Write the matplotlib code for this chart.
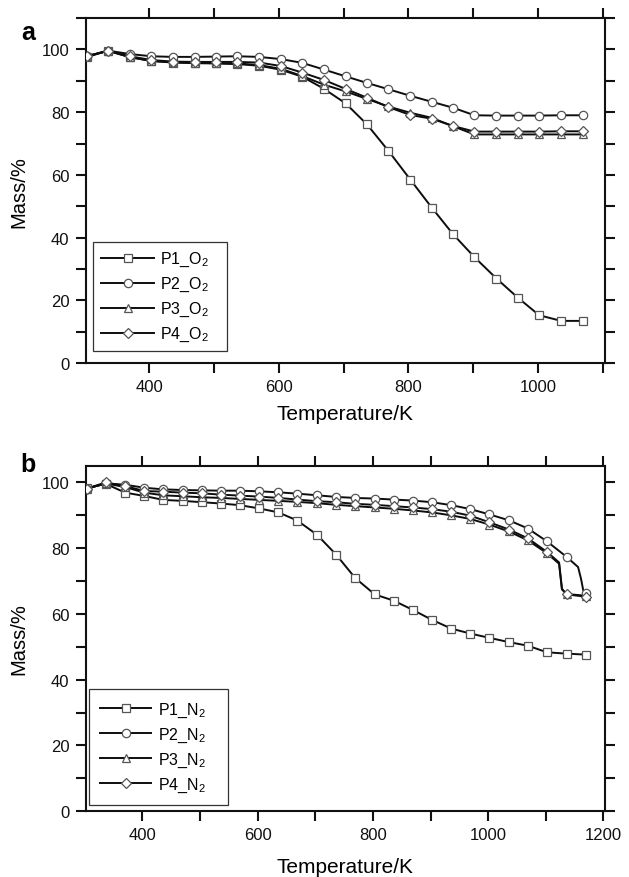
import matplotlib
matplotlib.use("Agg")
import matplotlib.pyplot as plt
from matplotlib.lines import Line2D
from matplotlib.ticker import MultipleLocator

plt.rcParams["font.family"] = "Liberation Sans"
plt.rcParams["mathtext.fontset"] = "custom"
plt.rcParams["mathtext.rm"] = "Liberation Sans"
plt.rcParams["mathtext.it"] = "Liberation Sans"

# ---- panel a: oxygen atmosphere ----
temp_o2 = [303, 336, 370, 403, 436, 470, 503, 536, 569, 603, 636, 669,
           703, 736, 769, 803, 836, 869, 902, 936, 969, 1002, 1036, 1069]
p1_o2 = [97.5, 99.6, 97.5, 96.3, 95.8, 95.6, 95.5, 95.3, 94.8, 93.5, 91.3, 87.5,
         82.8, 76.1, 67.7, 58.5, 49.6, 41.1, 33.8, 27.0, 20.9, 15.3, 13.5, 13.5]
p2_o2 = [97.8, 99.6, 98.5, 97.8, 97.6, 97.6, 97.7, 97.8, 97.6, 96.9, 95.7, 93.6,
         91.4, 89.3, 87.3, 85.2, 83.3, 81.4, 79.0, 78.9, 78.9, 78.9, 79.0, 79.0]
p3_o2 = [97.8, 99.5, 97.5, 96.3, 95.9, 95.7, 95.6, 95.5, 95.0, 93.8, 91.5, 88.8,
         86.6, 84.2, 81.8, 79.8, 78.2, 75.5, 72.9, 72.9, 72.9, 72.9, 72.9, 72.9]
p4_o2 = [97.8, 99.5, 97.8, 96.6, 96.1, 96.0, 96.0, 96.0, 95.8, 94.7, 92.6, 90.3,
         87.4, 84.6, 81.6, 79.1, 77.9, 75.6, 73.8, 73.8, 73.8, 73.8, 73.9, 73.9]

# ---- panel b: nitrogen atmosphere ----
temp_n2 = [303, 336, 370, 403, 436, 470, 503, 536, 569, 603, 636, 669, 703, 736,
           769, 803, 836, 869, 902, 936, 969, 1002, 1036, 1069, 1102, 1136, 1169]
p1_n2 = [98.1, 99.5, 96.8, 95.8, 94.6, 94.3, 93.9, 93.5, 93.0, 92.0, 90.8, 88.3, 84.0, 78.0,
         70.9, 65.9, 64.0, 61.2, 58.2, 55.5, 54.0, 52.7, 51.4, 50.3, 48.3, 47.9, 47.6]
p2_n2 = [98.0, 99.6, 99.2, 98.3, 97.8, 97.6, 97.5, 97.4, 97.4, 97.2, 96.9, 96.5, 96.0, 95.5,
         95.2, 95.0, 94.7, 94.4, 93.9, 93.0, 91.8, 90.2, 88.4, 85.9, 82.0, 77.3, 66.3]
p3_n2 = [98.0, 99.6, 98.5, 96.8, 96.0, 95.7, 95.4, 95.2, 94.9, 94.6, 94.3, 94.0, 93.6, 93.1,
         92.7, 92.3, 91.9, 91.4, 90.8, 89.9, 88.8, 87.1, 85.0, 82.3, 78.4, 66.0, 65.5]
p4_n2 = [98.0, 99.9, 98.8, 97.3, 97.1, 96.8, 96.6, 96.2, 95.9, 95.6, 95.2, 94.7, 94.2, 93.9,
         93.4, 93.1, 92.7, 92.3, 91.8, 91.0, 89.8, 87.8, 85.6, 82.9, 78.8, 65.9, 65.2]
# extra points read along the sharp final drops (line only, no markers)
bend_p2_t = [1156, 1161, 1165]
bend_p2 = [74.2, 70.7, 67.1]
bend_p34_t = [1123, 1128]
bend_p3 = [75.2, 67.4]
bend_p4 = [75.6, 67.6]

MARKERS = ["s", "o", "^", "D"]
MSIZE = [5.8, 6.0, 6.2, 5.3]
LINE_C = "#0d0d0d"
EDGE_C = "#555555"


def draw_series(ax, t, v, marker, ms, bend_t=None, bend_v=None):
    tl, vl = list(t), list(v)
    if bend_t:
        pts = sorted(zip(tl + bend_t, vl + bend_v))
        tl = [p[0] for p in pts]
        vl = [p[1] for p in pts]
    ax.plot(tl, vl, color=LINE_C, lw=1.4, zorder=2)
    ax.plot(t, v, ls="none", marker=marker, ms=ms, mfc="white", mec=EDGE_C,
            mew=0.9, zorder=3)


def style_axes(ax):
    for s in ax.spines.values():
        s.set_linewidth(1.5)
        s.set_color("#111111")
    ax.xaxis.set_major_locator(MultipleLocator(200))
    ax.xaxis.set_minor_locator(MultipleLocator(100))
    ax.yaxis.set_major_locator(MultipleLocator(20))
    ax.yaxis.set_minor_locator(MultipleLocator(10))
    ax.tick_params(which="both", direction="out", length=7, width=1.5,
                   top=True, right=True, labeltop=False, labelright=False,
                   colors="#111111")
    ax.tick_params(axis="x", which="major", labelsize=12, pad=4)
    ax.tick_params(axis="y", which="major", labelsize=12, pad=5)
    ax.set_xlabel("Temperature/K", fontsize=15)
    ax.set_ylabel("Mass/%", fontsize=14.5)
    ax.yaxis.set_label_coords(-0.112, 0.5)


def add_legend(ax, gas, anchor, borderpad, handlelength):
    handles = [Line2D([], [], color=LINE_C, lw=1.4, marker=m, ms=ms, mfc="white",
                      mec=EDGE_C, mew=0.9) for m, ms in zip(MARKERS, MSIZE)]
    labels = [f"P{i}_{gas[0]}$_{gas[1]}$" for i in range(1, 5)]
    leg = ax.legend(handles, labels, loc="lower left", bbox_to_anchor=anchor,
                    mode="expand", borderaxespad=0, fontsize=11.5,
                    handlelength=handlelength, handletextpad=0.4, labelspacing=0.42,
                    borderpad=borderpad, fancybox=False, framealpha=1)
    leg.get_frame().set_edgecolor("#333333")
    leg.get_frame().set_linewidth(0.9)


fig = plt.figure(figsize=(6.29, 8.78), dpi=100)
ax_a = fig.add_axes([0.1367, 0.5851, 0.8245, 0.3933])
ax_b = fig.add_axes([0.1367, 0.0748, 0.8245, 0.3937])

series_a = [p1_o2, p2_o2, p3_o2, p4_o2]
for v, m, ms in zip(series_a, MARKERS, MSIZE):
    draw_series(ax_a, temp_o2, v, m, ms)
ax_a.set_xlim(302, 1103)
ax_a.set_ylim(0, 110)
style_axes(ax_a)
ax_a.xaxis.set_label_coords(0.5, -0.118)
add_legend(ax_a, "O2", (0.0143, 0.0348, 0.258, 0.3), 0.5, 3.3)

series_b = [p1_n2, p2_n2, p3_n2, p4_n2]
bends_t = [None, bend_p2_t, bend_p34_t, bend_p34_t]
bends_v = [None, bend_p2, bend_p3, bend_p4]
for v, m, ms, bt, bv in zip(series_b, MARKERS, MSIZE, bends_t, bends_v):
    draw_series(ax_b, temp_n2, v, m, ms, bt, bv)
ax_b.set_xlim(302, 1202)
ax_b.set_ylim(0, 105)
style_axes(ax_b)
ax_b.xaxis.set_label_coords(0.5, -0.133)
add_legend(ax_b, "N2", (0.006, 0.019, 0.268, 0.3), 0.7, 3.2)

fig.text(0.033, 0.976, "a", fontsize=18, fontweight="bold", va="top")
fig.text(0.033, 0.484, "b", fontsize=18, fontweight="bold", va="top")

fig.savefig("out.png", dpi=100)
